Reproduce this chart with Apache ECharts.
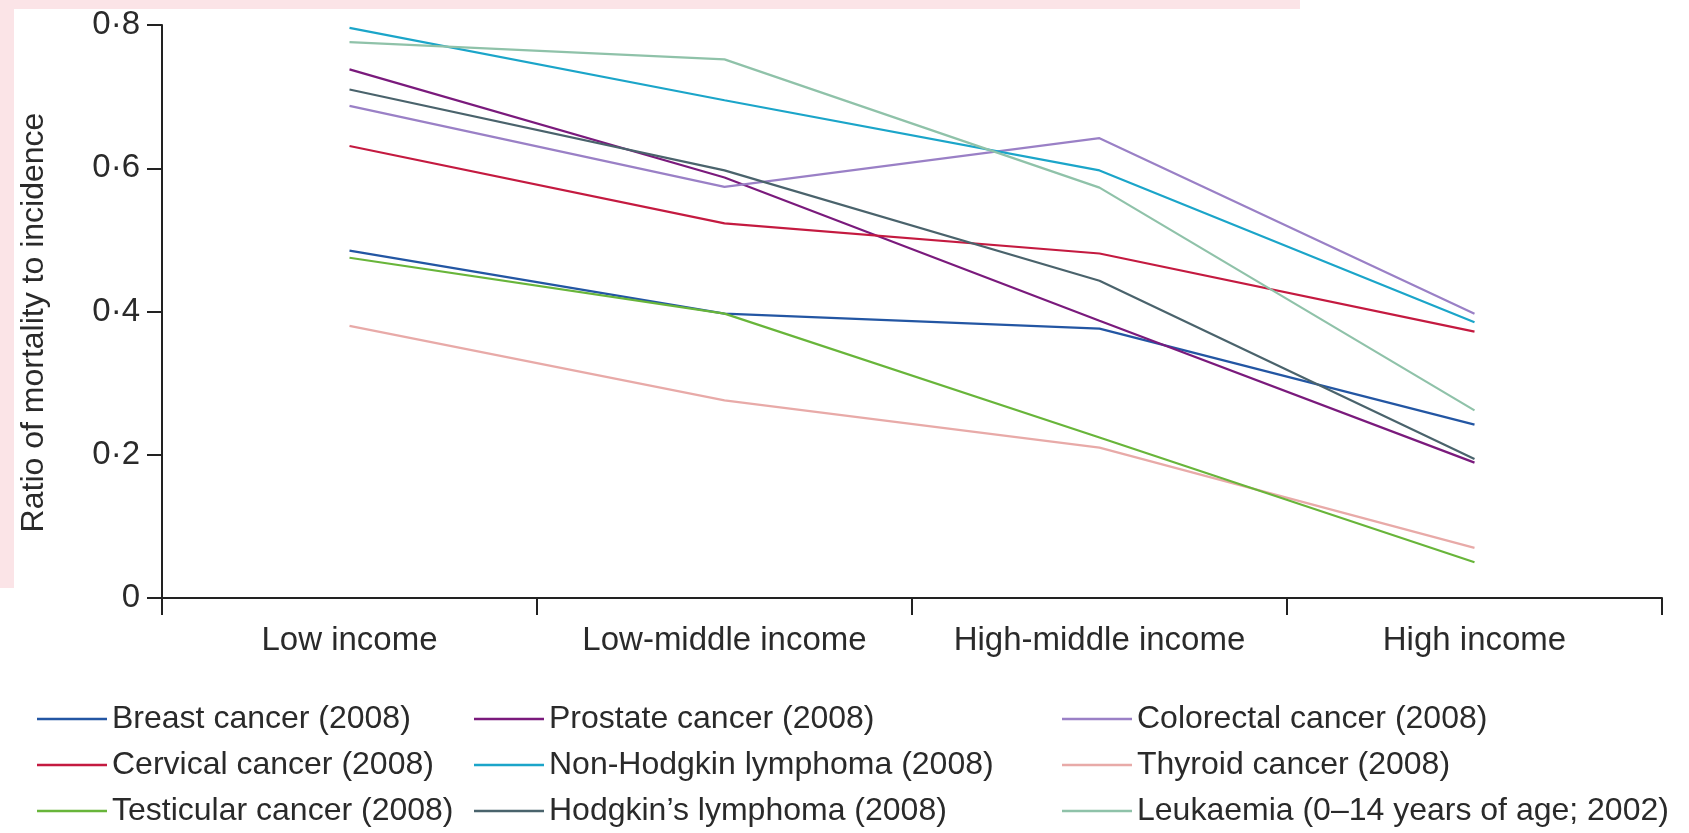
<!DOCTYPE html>
<html>
<head>
<meta charset="utf-8">
<script src="https://cdn.jsdelivr.net/npm/echarts@6/dist/echarts.min.js"></script>
<style>
html,body{margin:0;padding:0;background:#fff;}
#c{width:1689px;height:833px;}
</style>
</head>
<body>
<div id="c"></div>
<script>
const categories = ['Low income', 'Low-middle income', 'High-middle income', 'High income'];
const yTicks = [0, 0.2, 0.4, 0.6, 0.8];

const breast      = [0.485, 0.397, 0.376, 0.242];
const prostate    = [0.738, 0.587, 0.387, 0.189];
const colorectal  = [0.687, 0.574, 0.642, 0.397];
const cervical    = [0.631, 0.523, 0.481, 0.372];
const nhl         = [0.796, 0.695, 0.597, 0.385];
const thyroid     = [0.380, 0.276, 0.210, 0.070];
const testicular  = [0.475, 0.397, 0.224, 0.050];
const hodgkin     = [0.710, 0.597, 0.443, 0.194];
const leukaemia   = [0.776, 0.752, 0.573, 0.262];

const seriesNames = [
  'Breast cancer (2008)', 'Prostate cancer (2008)', 'Colorectal cancer (2008)',
  'Cervical cancer (2008)', 'Non-Hodgkin lymphoma (2008)', 'Thyroid cancer (2008)',
  'Testicular cancer (2008)', 'Hodgkin\u2019s lymphoma (2008)', 'Leukaemia (0\u201314 years of age; 2002)'
];
const seriesData = [breast, prostate, colorectal, cervical, nhl, thyroid, testicular, hodgkin, leukaemia];
const seriesColors = ['#2356a3', '#7a1a7c', '#9a80c6', '#c41a40', '#1ba5c9', '#e8aaa8', '#68b53a', '#4a636c', '#8fc2a9'];

const FONT = '"Liberation Sans", "Noto Sans", sans-serif';
const TXT = '#2a2a2a';

const chart = echarts.init(document.getElementById('c'), null, {renderer: 'canvas'});

const series = seriesNames.map((n, i) => ({
  name: n,
  type: 'line',
  data: seriesData[i],
  symbol: 'none',
  smooth: false,
  lineStyle: {width: 2.2, color: seriesColors[i]},
  itemStyle: {color: seriesColors[i]},
  z: 2
}));

const colLeft = [37, 474, 1062];
const rowTop = [702, 748, 794];
const legends = seriesNames.map((n, i) => ({
  left: colLeft[i % 3], top: rowTop[Math.floor(i / 3)],
  orient: 'horizontal', padding: 0,
  data: [n], icon: 'rect', itemWidth: 70, itemHeight: 2.5,
  selectedMode: false,
  textStyle: {fontFamily: FONT, fontSize: 32, color: TXT, padding: [0, 0, 0, 0], lineHeight: 34}
}));

chart.setOption({
  backgroundColor: '#ffffff',
  animation: false,
  graphic: [
    {type: 'rect', shape: {x: 0, y: 0, width: 14, height: 588}, style: {fill: '#fbe4e7'}, silent: true, z: -10},
    {type: 'rect', shape: {x: 0, y: 0, width: 1300, height: 9}, style: {fill: '#fbe4e7'}, silent: true, z: -10}
  ],
  grid: {left: 162, right: 27, top: 25, bottom: 235, containLabel: false},
  legend: legends,
  xAxis: {
    type: 'category',
    data: categories,
    boundaryGap: true,
    axisLine: {show: true, lineStyle: {color: '#222', width: 2}},
    axisTick: {show: true, interval: 0, length: 17, lineStyle: {color: '#222', width: 2}, alignWithLabel: false},
    axisLabel: {interval: 0, fontFamily: FONT, fontSize: 33, color: TXT, margin: 26},
    splitLine: {show: false}
  },
  yAxis: {
    type: 'value',
    min: yTicks[0], max: yTicks[yTicks.length - 1], interval: 0.2,
    name: 'Ratio of mortality to incidence',
    nameLocation: 'middle', nameGap: 112,
    nameTextStyle: {fontFamily: FONT, fontSize: 32, color: TXT, padding: [0, 22, 0, 0]},
    axisLine: {show: true, lineStyle: {color: '#222', width: 2}},
    axisTick: {show: true, length: 15, lineStyle: {color: '#222', width: 2}},
    axisLabel: {
      fontFamily: FONT, fontSize: 33, color: TXT, margin: 22,
      formatter: v => (v === 0 ? '0' : v.toFixed(1).replace('.', '\u00b7'))
    },
    splitLine: {show: false}
  },
  series: series
});
</script>
</body>
</html>
